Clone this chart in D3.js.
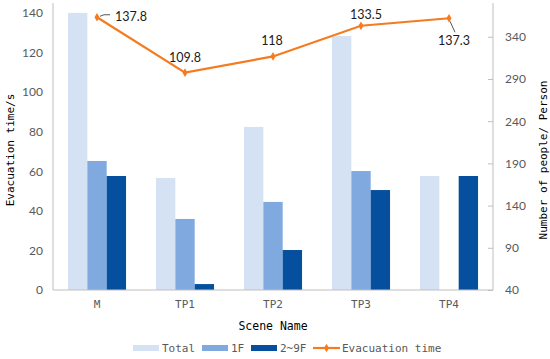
<!DOCTYPE html>
<html>
<head>
<meta charset="utf-8">
<script src="https://cdn.jsdelivr.net/npm/d3@7"></script>
<style>
  body { margin: 0; background: #fff; }
  svg { display: block; }
</style>
</head>
<body>
<svg id="chart" width="550" height="359"></svg>
<script>
// dati
const scenes = ['M', 'TP1', 'TP2', 'TP3', 'TP4']
const total = [140, 56.6, 82.4, 128.3, 57.6]
const firstFloor = [65.2, 35.9, 44.5, 60.1, null]
const upperFloors = [57.6, 3.0, 20.2, 50.5, 57.6]
const evacTime = [137.8, 109.8, 118, 133.5, 137.3]
const leftTicks = [0, 20, 40, 60, 80, 100, 120, 140]
const rightTicks = [40, 90, 140, 190, 240, 290, 340]

const seriesNames = ['Total', '1F', '2~9F']
const seriesColors = ['#d5e2f4', '#80a9e0', '#064f9f']
const lineColor = '#f47b20'
const tickColor = '#595959'
const axisColor = '#bfbfbf'
const monoFont = '"DejaVu Sans Mono", monospace'
const numFont = 'Lato, "Open Sans", sans-serif'

const svg = d3.select('#chart')
const plotLeft = 53, plotRight = 493, plotTop = 3, plotBottom = 290

const x = d3.scaleBand()
	.domain(scenes)
	.range([plotLeft, plotRight])
	.paddingInner(0.34)
	.paddingOuter(0.17)

const xSub = d3.scaleBand()
	.domain(seriesNames)
	.range([0, x.bandwidth()])

const yLeft = d3.scaleLinear().domain([0, 145]).range([plotBottom, plotTop])
const yRight = d3.scaleLinear().domain([40, 380]).range([plotBottom, plotTop])

const xCenter = d => x(d) + x.bandwidth() / 2

// barre
const groups = [total, firstFloor, upperFloors]
groups.forEach((vals, s) => {
	svg.append('g')
		.selectAll('rect')
		.data(scenes.map((c, i) => ({ c, v: vals[i] })).filter(d => d.v != null))
		.enter()
		.append('rect')
		.attr('x', d => x(d.c) + xSub(seriesNames[s]))
		.attr('width', xSub.bandwidth())
		.attr('y', d => yLeft(d.v))
		.attr('height', d => plotBottom - yLeft(d.v))
		.attr('fill', seriesColors[s])
})

// assi
const axisL = svg.append('g')
	.attr('transform', `translate(${plotLeft},0)`)
	.call(d3.axisLeft(yLeft).tickValues(leftTicks).tickSize(0).tickPadding(10))
axisL.select('.domain').attr('stroke', axisColor).attr('d', `M0,${plotTop}V${plotBottom}`)
axisL.selectAll('text').attr('fill', tickColor).style('font-family', numFont).style('font-size', '12px')

const axisR = svg.append('g')
	.attr('transform', `translate(${plotRight},0)`)
	.call(d3.axisRight(yRight).tickValues(rightTicks).tickSize(-5).tickPadding(12))
axisR.select('.domain').attr('stroke', axisColor).attr('d', `M0,${plotTop}V${plotBottom}`)
axisR.selectAll('.tick line').attr('stroke', axisColor)
axisR.selectAll('text').attr('fill', tickColor).style('font-family', numFont).style('font-size', '12px')

const axisB = svg.append('g')
	.attr('transform', `translate(0,${plotBottom})`)
	.call(d3.axisBottom(x).tickSize(0).tickPadding(10))
axisB.select('.domain').attr('stroke', axisColor).attr('d', `M${plotLeft},0H${plotRight}`)
axisB.selectAll('text').attr('fill', tickColor).style('font-family', monoFont).style('font-size', '11px')

// titoli
svg.append('text')
	.attr('transform', 'translate(14,150) rotate(-90)')
	.attr('text-anchor', 'middle')
	.style('font-family', monoFont)
	.style('font-size', '11px')
	.attr('fill', '#000')
	.text('Evacuation time/s')

svg.append('text')
	.attr('transform', 'translate(547,160) rotate(-90)')
	.attr('text-anchor', 'middle')
	.style('font-family', monoFont)
	.style('font-size', '11px')
	.attr('fill', '#000')
	.text('Number of people/ Person')

svg.append('text')
	.attr('x', 273)
	.attr('y', 330)
	.attr('text-anchor', 'middle')
	.style('font-family', monoFont)
	.style('font-size', '11.5px')
	.attr('fill', '#000')
	.text('Scene Name')

// linea tempo di evacuazione
const line = d3.line()
	.x((d, i) => xCenter(scenes[i]))
	.y(d => yLeft(d))

svg.append('path')
	.datum(evacTime)
	.attr('d', line)
	.attr('fill', 'none')
	.attr('stroke', lineColor)
	.attr('stroke-width', 2.2)

const diamond = d3.symbol().type(d3.symbolDiamond).size(22)
svg.append('g')
	.selectAll('path')
	.data(evacTime)
	.enter()
	.append('path')
	.attr('d', diamond)
	.attr('transform', (d, i) => `translate(${xCenter(scenes[i])},${yLeft(d)})`)
	.attr('fill', lineColor)

// etichette dei valori (offset in px rispetto al punto)
const labelOffsets = [[34, 4], [0, -11], [-1, -11], [5, -7], [5, 27]]
svg.append('g')
	.selectAll('text')
	.data(evacTime)
	.enter()
	.append('text')
	.attr('x', (d, i) => xCenter(scenes[i]) + labelOffsets[i][0])
	.attr('y', (d, i) => yLeft(d) + labelOffsets[i][1])
	.attr('text-anchor', 'middle')
	.style('font-family', numFont)
	.style('font-size', '12.5px')
	.attr('fill', '#1a1a1a')
	.text(d => d)

// linee guida delle etichette
const p0 = [xCenter('M'), yLeft(evacTime[0])]
svg.append('path')
	.attr('d', `M${p0[0] + 3},${p0[1] - 1}L${p0[0] + 7},${p0[1] - 2.5}H${p0[0] + 13}`)
	.attr('stroke', '#555').attr('fill', 'none').attr('stroke-width', 1)
const p4 = [xCenter('TP4'), yLeft(evacTime[4])]
svg.append('path')
	.attr('d', `M${p4[0] + 1},${p4[1] + 3}L${p4[0] + 6},${p4[1] + 14}`)
	.attr('stroke', '#555').attr('fill', 'none').attr('stroke-width', 1)

// legenda
const legendY = 348
const legendItems = [
	{ name: 'Total', x: 133, color: seriesColors[0], type: 'rect' },
	{ name: '1F', x: 202, color: seriesColors[1], type: 'rect' },
	{ name: '2~9F', x: 251, color: seriesColors[2], type: 'rect' },
	{ name: 'Evacuation time', x: 313, color: lineColor, type: 'line' }
]
const legend = svg.append('g')
legendItems.forEach(it => {
	if (it.type === 'rect') {
		legend.append('rect')
			.attr('x', it.x).attr('y', legendY - 3)
			.attr('width', 26).attr('height', 6)
			.attr('fill', it.color)
	} else {
		legend.append('line')
			.attr('x1', it.x).attr('x2', it.x + 27)
			.attr('y1', legendY).attr('y2', legendY)
			.attr('stroke', it.color).attr('stroke-width', 2.2)
		legend.append('path')
			.attr('d', diamond)
			.attr('transform', `translate(${it.x + 13.5},${legendY})`)
			.attr('fill', it.color)
	}
	legend.append('text')
		.attr('x', it.x + 29)
		.attr('y', legendY)
		.attr('dy', '0.35em')
		.style('font-family', monoFont)
		.style('font-size', '11px')
		.attr('fill', tickColor)
		.text(it.name)
})
</script>
</body>
</html>
